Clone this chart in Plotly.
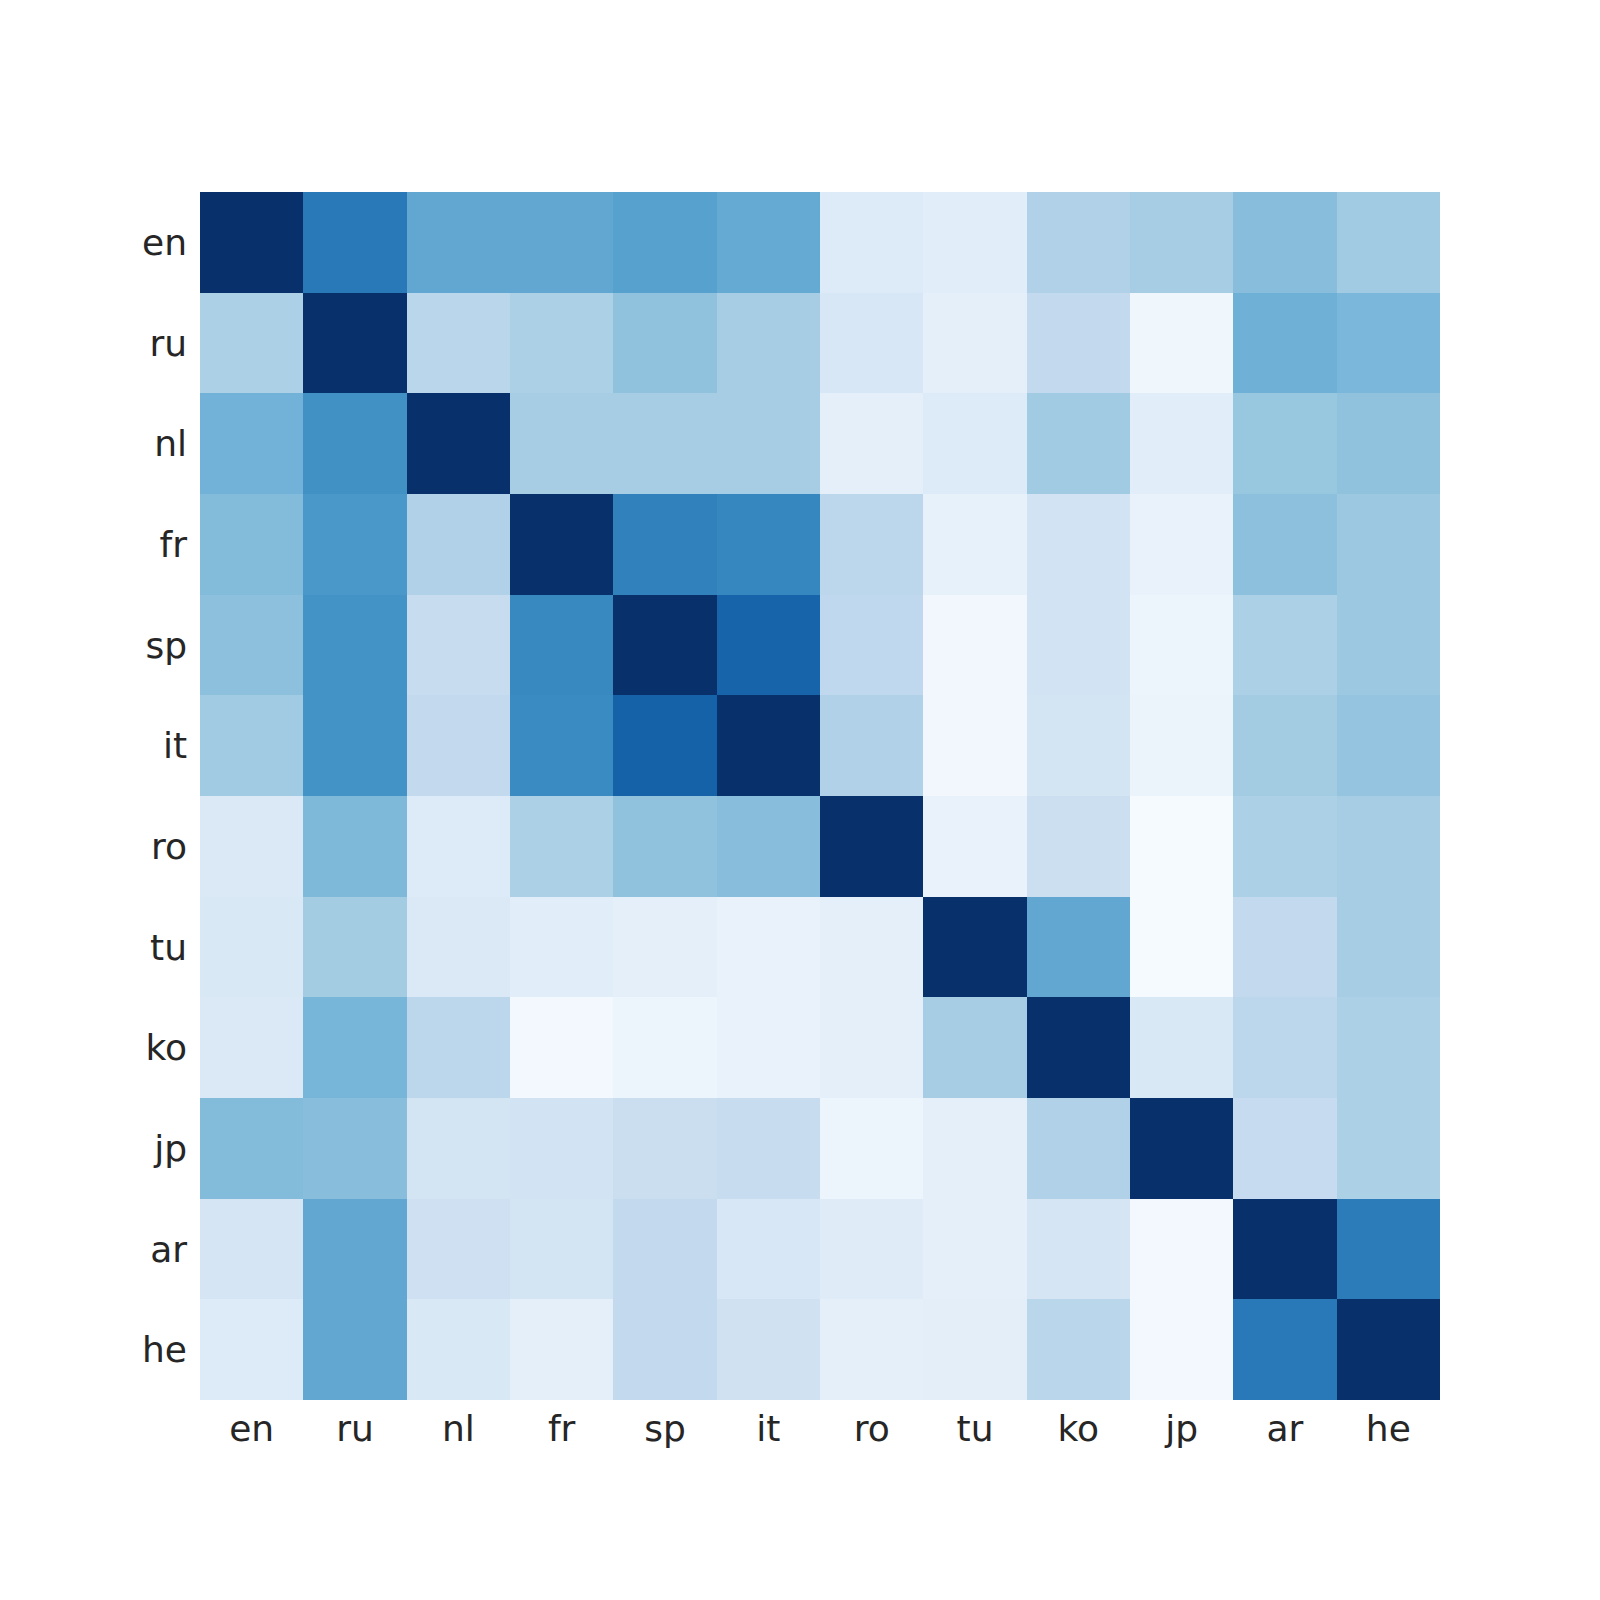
import plotly.graph_objects as go

langs = ["en", "ru", "nl", "fr", "sp", "it", "ro", "tu", "ko", "jp", "ar", "he"]

row_en = [1.00, 0.72, 0.53, 0.53, 0.56, 0.52, 0.13, 0.11, 0.32, 0.35, 0.43, 0.37]
row_ru = [0.33, 1.00, 0.29, 0.33, 0.41, 0.35, 0.16, 0.09, 0.26, 0.04, 0.49, 0.46]
row_nl = [0.48, 0.63, 1.00, 0.35, 0.35, 0.35, 0.09, 0.13, 0.37, 0.11, 0.39, 0.41]
row_fr = [0.44, 0.60, 0.32, 1.00, 0.69, 0.67, 0.28, 0.08, 0.19, 0.07, 0.42, 0.38]
row_sp = [0.42, 0.62, 0.24, 0.66, 1.00, 0.80, 0.27, 0.03, 0.19, 0.05, 0.33, 0.38]
row_it = [0.37, 0.62, 0.26, 0.65, 0.81, 1.00, 0.32, 0.03, 0.18, 0.06, 0.36, 0.40]
row_ro = [0.14, 0.45, 0.13, 0.33, 0.41, 0.43, 1.00, 0.07, 0.22, 0.01, 0.33, 0.35]
row_tu = [0.15, 0.36, 0.14, 0.11, 0.09, 0.07, 0.09, 1.00, 0.53, 0.01, 0.26, 0.35]
row_ko = [0.14, 0.47, 0.28, 0.02, 0.05, 0.07, 0.09, 0.35, 1.00, 0.15, 0.28, 0.33]
row_jp = [0.44, 0.43, 0.18, 0.19, 0.23, 0.24, 0.05, 0.09, 0.32, 1.00, 0.25, 0.33]
row_ar = [0.17, 0.53, 0.21, 0.18, 0.26, 0.16, 0.12, 0.09, 0.17, 0.02, 1.00, 0.71]
row_he = [0.13, 0.53, 0.15, 0.09, 0.26, 0.20, 0.09, 0.10, 0.29, 0.02, 0.72, 1.00]

z = [row_en, row_ru, row_nl, row_fr, row_sp, row_it,
     row_ro, row_tu, row_ko, row_jp, row_ar, row_he]

blues = ['rgb(247,251,255)', 'rgb(222,235,247)', 'rgb(198,219,239)',
         'rgb(158,202,225)', 'rgb(107,174,214)', 'rgb(66,146,198)',
         'rgb(33,113,181)', 'rgb(8,81,156)', 'rgb(8,48,107)']
cscale = [[i / (len(blues) - 1), c] for i, c in enumerate(blues)]

fig = go.Figure(go.Heatmap(
    z=z, x=langs, y=langs,
    colorscale=cscale, zmin=0, zmax=1,
    showscale=False,
    hoverongaps=False,
))

font = dict(family="DejaVu Sans", size=36, color="#262626")
fig.update_layout(
    width=1600, height=1600,
    margin=dict(l=192, r=168, t=184, b=208),
    paper_bgcolor="white", plot_bgcolor="white",
    font=font,
    xaxis=dict(showgrid=False, zeroline=False, showline=False, ticks="",
               tickfont=font, ticklabelstandoff=4),
    yaxis=dict(showgrid=False, zeroline=False, showline=False, ticks="",
               tickfont=font, autorange="reversed", ticklabelstandoff=12),
)

fig.write_html("out.html")
